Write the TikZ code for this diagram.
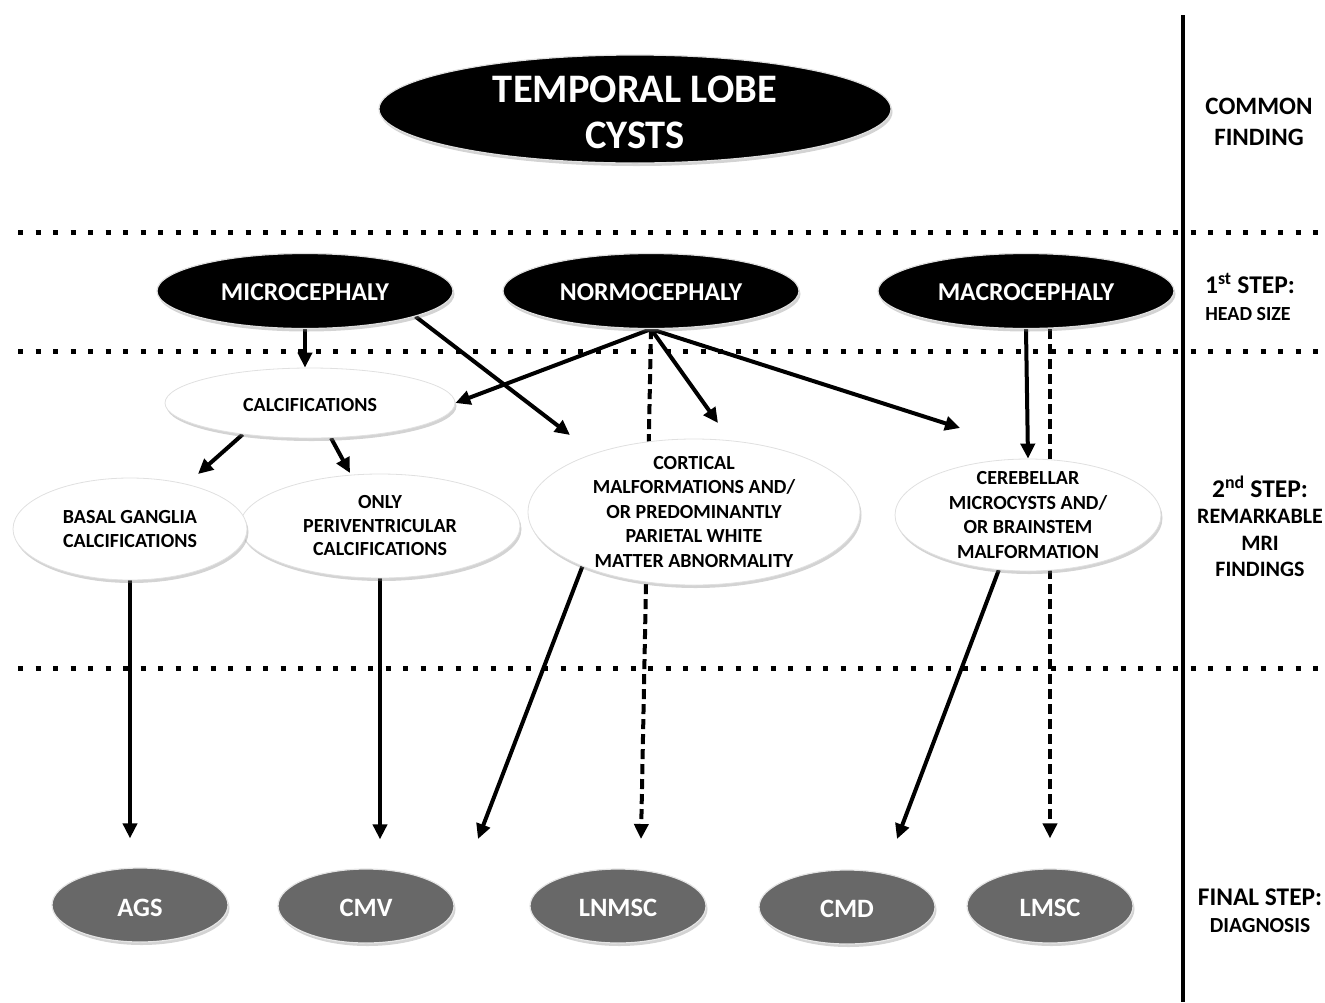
\documentclass[tikz,border=0pt]{standalone}
\usepackage{fontspec}
\setmainfont{Carlito}
\usetikzlibrary{shapes.geometric,arrows.meta,shadows,calc}
\pgfdeclarelayer{bg}
\pgfsetlayers{bg,main}
\definecolor{diaggray}{RGB}{104,104,104}
\begin{document}
\begin{tikzpicture}[x=1pt,y=-1pt,
 oval/.style={ellipse, inner sep=-60pt, align=center, drop shadow={opacity=0.35, shadow xshift=1.5pt, shadow yshift=-3pt}},
 darkoval/.style={oval, fill=black, draw=black!12, line width=1.2pt, text=white},
 lightoval/.style={oval, fill=white, draw=black!12, line width=0.8pt, text=black},
 diagoval/.style={oval, fill=diaggray, draw=black!10, line width=1.2pt, text=white},
 arr/.style={line width=4pt, -{Triangle[length=15pt,width=14pt]}},
 dsh/.style={arr, dash pattern=on 10pt off 5pt},
 sepline/.style={line width=5pt, dash pattern=on 5pt off 12.5pt},
 lab/.style={align=center, text=black}]
\useasboundingbox (0,0) rectangle (1325,1002);

% nodes
\node[darkoval, minimum width=512pt, minimum height=108pt, font=\bfseries\fontsize{40.5}{46}\selectfont] (title) at (635,109) {\rule{0pt}{33pt}TEMPORAL LOBE\\CYSTS};

\node[darkoval, minimum width=296pt, minimum height=75pt, font=\bfseries\fontsize{25.7}{28}\selectfont] (micro) at (305,291) {\rule{0pt}{20pt}MICROCEPHALY};
\node[darkoval, minimum width=296pt, minimum height=75pt, font=\bfseries\fontsize{25.7}{28}\selectfont] (normo) at (651,291) {\rule{0pt}{20pt}NORMOCEPHALY};
\node[darkoval, minimum width=296pt, minimum height=75pt, font=\bfseries\fontsize{25.7}{28}\selectfont] (macro) at (1026,291) {\rule{0pt}{20pt}MACROCEPHALY};

\node[lightoval, minimum width=290pt, minimum height=70pt, font=\bfseries\fontsize{20}{24.5}\selectfont] (calc) at (310,403) {\rule{0pt}{17pt}CALCIFICATIONS};
\node[lightoval, minimum width=280pt, minimum height=104pt, font=\bfseries\fontsize{20}{23.5}\selectfont] (only) at (380,526) {ONLY\\PERIVENTRICULAR\\CALCIFICATIONS};
\node[lightoval, minimum width=234pt, minimum height=102pt, font=\bfseries\fontsize{20}{24.5}\selectfont] (basal) at (130,529) {BASAL GANGLIA\\CALCIFICATIONS};
\node[lightoval, minimum width=332pt, minimum height=146pt, font=\bfseries\fontsize{20}{24.5}\selectfont] (cort) at (694,512) {CORTICAL\\MALFORMATIONS AND/\\OR PREDOMINANTLY\\PARIETAL WHITE\\MATTER ABNORMALITY};
\node[lightoval, minimum width=266pt, minimum height=112pt, font=\bfseries\fontsize{20}{24.5}\selectfont] (cereb) at (1028,515) {CEREBELLAR\\MICROCYSTS AND/\\OR BRAINSTEM\\MALFORMATION};

\node[diagoval, minimum width=176pt, minimum height=74pt, font=\bfseries\fontsize{26.5}{28}\selectfont] (ags) at (140,905) {\rule{0pt}{24pt}AGS};
\node[diagoval, minimum width=176pt, minimum height=74pt, font=\bfseries\fontsize{26.5}{28}\selectfont] (cmv) at (366,906) {\rule{0pt}{22pt}CMV};
\node[diagoval, minimum width=176pt, minimum height=74pt, font=\bfseries\fontsize{26.5}{28}\selectfont] (lnmsc) at (618,906) {\rule{0pt}{22pt}LNMSC};
\node[diagoval, minimum width=176pt, minimum height=74pt, font=\bfseries\fontsize{26.5}{28}\selectfont] (cmd) at (847,907) {\rule{0pt}{22pt}CMD};
\node[diagoval, minimum width=166pt, minimum height=74pt, font=\bfseries\fontsize{26.5}{28}\selectfont] (lmsc) at (1050,906) {\rule{0pt}{22pt}LMSC};

% right column labels
\node[lab, font=\bfseries\fontsize{25}{31}\selectfont] (common) at (1259,122) {COMMON\\FINDING};
\node[lab, font=\bfseries\fontsize{25.5}{30}\selectfont] (s1a) at (1250,283) {1\textsuperscript{st} STEP:};
\node[lab, font=\bfseries\fontsize{20}{24}\selectfont] (s1b) at (1248,314) {HEAD SIZE};
\node[lab, font=\bfseries\fontsize{25.5}{30}\selectfont] (s2a) at (1260,487) {2\textsuperscript{nd} STEP:};
\node[lab, font=\bfseries\fontsize{22}{26.5}\selectfont] (s2b) at (1260,543) {REMARKABLE\\MRI\\FINDINGS};
\node[lab, font=\bfseries\fontsize{25.4}{30}\selectfont] (s3a) at (1260,897) {FINAL STEP:};
\node[lab, font=\bfseries\fontsize{21.5}{24}\selectfont] (s3b) at (1260,926) {DIAGNOSIS};

% free arrow ends
\coordinate (tMC) at (570,435);
\coordinate (tNC) at (718,423);
\coordinate (tNR) at (960,428);
\coordinate (tLN) at (641,839);
\coordinate (tBG) at (198,474);
\coordinate (tOP) at (350,473);
\coordinate (tCD) at (478,839);
\coordinate (tCM) at (897,839);

\begin{pgfonlayer}{bg}
\draw[sepline] (18,232) -- (1325,232);
\draw[sepline] (18,351) -- (1325,351);
\draw[sepline] (18,668) -- (1325,668);
\draw[line width=4pt] (1183,15) -- (1183,1002);

\draw[arr] (micro.south) -- (micro.south |- calc.north);
\draw[arr] (micro.-13) -- (tMC);
\draw[arr] (normo.south) -- (calc.east);
\draw[dsh] (normo.south) -- (tLN);
\draw[arr] (normo.south) -- (tNC);
\draw[arr] (normo.south) -- (tNR);
\draw[arr] (macro.south) -- (cereb.north);
\draw[dsh, shorten >=30pt] (macro.south -| lmsc.north) -- (lmsc.north);
\draw[arr] (calc.-155.7) -- (tBG);
\draw[arr] (calc.-59.5) -- (tOP);
\draw[arr, shorten >=29pt] (basal.south) -- (basal.south |- ags.north);
\draw[arr, shorten >=29pt] (only.south) -- (only.south |- cmv.north);
\draw[arr] (cort.-154.6) -- (tCD);
\draw[arr] (cereb.-118.6) -- (tCM);
\end{pgfonlayer}
\end{tikzpicture}
\end{document}
